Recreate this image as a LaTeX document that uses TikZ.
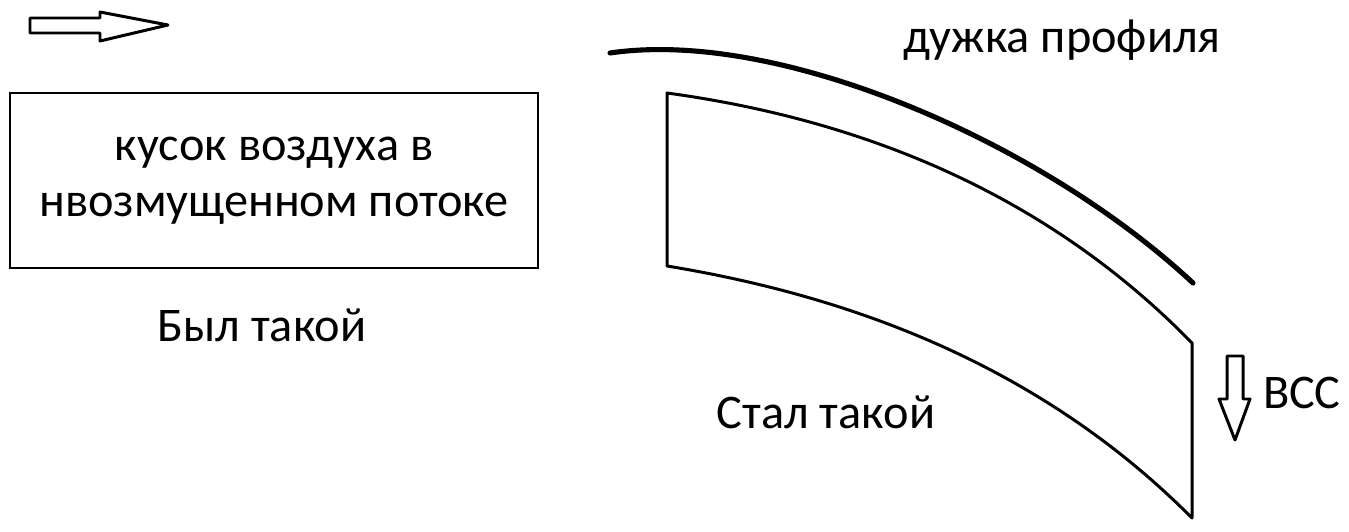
\documentclass[tikz,border=0pt]{standalone}
\usepackage{fontspec}
\setmainfont{Carlito}
\begin{document}
\begin{tikzpicture}[x=0.02cm,y=-0.02cm,
  lbl/.style={inner sep=0pt,font=\fontsize{27.5}{32}\selectfont,align=center},
  thin/.style={line width=1.7pt,line join=round},
  thick/.style={line width=2.9pt,line cap=round}]
\useasboundingbox (0,0) rectangle (1349,531);
% flow arrow
\draw[thin] (30,18)--(100,18)--(100,12)--(168,25)--(100,41)--(100,33)--(30,33)--cycle;
% box
\node[draw,line width=1.7pt,minimum width=528*0.02cm,minimum height=175*0.02cm,inner sep=0pt,
  font=\fontsize{27.5}{32}\selectfont,align=center] (box) at (274,180.5)
  {кусок воздуха в\\нвозмущенном потоке};
\node[lbl] (was) at (262,325) {Был такой};
% airfoil
\draw[thick] (610,53) .. controls (780,28) and (1043,143) .. (1193,283);
\node[lbl] (prof) at (1062,40) {дужка профиля};
% deformed piece
\coordinate (a) at (667,93);
\coordinate (b) at (1192,343);
\coordinate (c) at (1192,518);
\coordinate (d) at (667,266);
\draw[thin] (a) .. controls (850,118) and (1040,187) .. (b) -- (c)
  .. controls (1040,365) and (850,296) .. (d) -- cycle;
\node[lbl] (now) at (826,412) {Стал такой};
% downwash arrow
\draw[thin] (1227,356)--(1243,356)--(1243,399)--(1250,399)--(1235,440)--(1219,399)--(1227,399)--cycle;
\node[lbl] (vss) at (1302,393) {ВСС};
\end{tikzpicture}
\end{document}
